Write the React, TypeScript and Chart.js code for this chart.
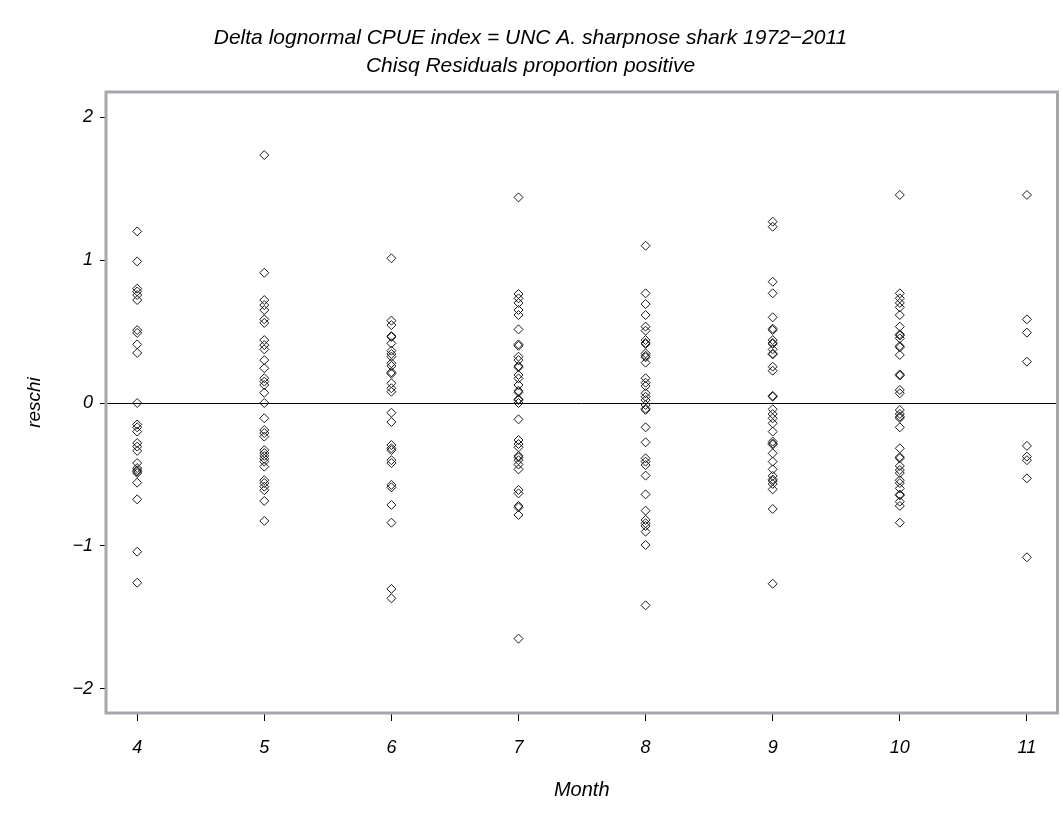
import { useEffect, useRef } from "react";
import { Chart, registerables } from "chart.js";

Chart.register(...registerables);

const titleLines = [
  "Delta lognormal CPUE index = UNC A. sharpnose shark 1972\u22122011",
  "Chisq Residuals proportion positive",
];
const xAxisTitle = "Month";
const yAxisTitle = "reschi";

const months = [4, 5, 6, 7, 8, 9, 10, 11];
const yTickValues = [-2, -1, 0, 1, 2];

const month4 = [1.2, 0.99, 0.8, 0.78, 0.755, 0.72, 0.51, 0.49, 0.41, 0.35, 0.0, -0.15, -0.17, -0.2, -0.28, -0.305, -0.335, -0.42, -0.455, -0.47, -0.48, -0.49, -0.557, -0.674, -1.04, -1.257];
const month5 = [1.734, 0.911, 0.72, 0.685, 0.65, 0.585, 0.56, 0.44, 0.405, 0.375, 0.3, 0.243, 0.173, 0.15, 0.126, 0.072, 0.0, -0.107, -0.189, -0.21, -0.235, -0.33, -0.35, -0.37, -0.39, -0.41, -0.445, -0.54, -0.56, -0.585, -0.61, -0.685, -0.825];
const month6 = [1.012, 0.576, 0.545, 0.468, 0.462, 0.417, 0.366, 0.343, 0.324, 0.278, 0.259, 0.215, 0.205, 0.138, 0.103, 0.079, -0.068, -0.133, -0.294, -0.317, -0.33, -0.4, -0.42, -0.573, -0.59, -0.713, -0.837, -1.3, -1.366];
const month7 = [1.438, 0.762, 0.732, 0.7, 0.65, 0.615, 0.515, 0.41, 0.4, 0.324, 0.3, 0.258, 0.25, 0.196, 0.172, 0.126, 0.085, 0.075, 0.026, 0.02, 0.0, -0.114, -0.259, -0.287, -0.31, -0.37, -0.38, -0.4, -0.43, -0.464, -0.608, -0.632, -0.72, -0.73, -0.783, -1.648];
const month8 = [1.1, 0.767, 0.692, 0.615, 0.534, 0.506, 0.44, 0.42, 0.413, 0.347, 0.33, 0.32, 0.282, 0.173, 0.142, 0.119, 0.068, 0.044, 0.02, -0.014, -0.04, -0.048, -0.17, -0.275, -0.387, -0.41, -0.434, -0.508, -0.639, -0.753, -0.818, -0.841, -0.86, -0.9, -0.993, -1.415];
const month9 = [1.268, 1.233, 0.848, 0.767, 0.599, 0.52, 0.51, 0.44, 0.42, 0.413, 0.375, 0.345, 0.34, 0.254, 0.226, 0.05, 0.044, -0.044, -0.077, -0.107, -0.142, -0.2, -0.27, -0.283, -0.29, -0.352, -0.41, -0.464, -0.51, -0.535, -0.545, -0.566, -0.604, -0.741, -1.264];
const month10 = [1.455, 0.767, 0.732, 0.7, 0.669, 0.615, 0.534, 0.48, 0.472, 0.452, 0.398, 0.39, 0.336, 0.2, 0.192, 0.091, 0.068, -0.049, -0.077, -0.095, -0.105, -0.17, -0.317, -0.378, -0.386, -0.44, -0.469, -0.49, -0.54, -0.56, -0.597, -0.64, -0.646, -0.69, -0.72, -0.837];
const month11 = [1.455, 0.585, 0.492, 0.289, -0.3, -0.375, -0.4, -0.527, -1.079];

const residualsByMonth = [month4, month5, month6, month7, month8, month9, month10, month11];

const FONT = "'Liberation Sans', Arial, Helvetica, sans-serif";

const framePlugin = {
  id: "frameAndZero",
  beforeDatasetsDraw(chart: any) {
    const { ctx, chartArea, scales } = chart;
    const { left, top, right, bottom } = chartArea;
    ctx.save();
    const y0 = Math.round(scales.y.getPixelForValue(0)) + 0.5;
    ctx.strokeStyle = "#000";
    ctx.lineWidth = 1;
    ctx.beginPath();
    ctx.moveTo(left, y0);
    ctx.lineTo(right, y0);
    ctx.stroke();
    ctx.strokeStyle = "#a4a8ac";
    ctx.lineWidth = 3;
    ctx.strokeRect(left, top, right - left, bottom - top);
    ctx.restore();
  },
};

export default function App() {
  const canvasRef = useRef<HTMLCanvasElement | null>(null);

  useEffect(() => {
    if (!canvasRef.current) return;
    const points: { x: number; y: number }[] = [];
    months.forEach((m, i) => {
      residualsByMonth[i].forEach((v) => points.push({ x: m, y: v }));
    });

    const chart = new Chart(canvasRef.current, {
      type: "scatter",
      data: {
        datasets: [
          {
            label: "reschi",
            data: points,
            pointStyle: "rectRot",
            pointRadius: 4.5,
            pointBorderWidth: 1,
            pointBorderColor: "#1a1a1a",
            pointBackgroundColor: "rgba(0,0,0,0)",
            showLine: false,
          },
        ],
      },
      options: {
        animation: false,
        responsive: false,
        devicePixelRatio: 1,
        layout: { padding: { left: 0, right: 2, top: 0, bottom: 0 } },
        plugins: {
          legend: { display: false },
          tooltip: { enabled: false },
          title: {
            display: true,
            text: titleLines,
            color: "#000",
            font: { family: FONT, size: 21, style: "italic", weight: "normal", lineHeight: 28 / 21 },
            padding: { top: 24, bottom: 12 },
          },
        },
        scales: {
          x: {
            type: "linear",
            min: 3.7546,
            max: 11.2407,
            afterFit: (s: any) => {
              s.height = 102;
            },
            afterBuildTicks: (s: any) => {
              s.ticks = months.map((v) => ({ value: v }));
            },
            border: { display: false },
            grid: { display: true, drawOnChartArea: false, drawTicks: true, tickLength: 8, color: "#000", lineWidth: 1 },
            ticks: {
              color: "#000",
              padding: 16,
              maxRotation: 0,
              autoSkip: false,
              font: { family: FONT, size: 18, style: "italic" },
            },
            title: {
              display: true,
              text: xAxisTitle,
              color: "#000",
              font: { family: FONT, size: 20, style: "italic", lineHeight: 1.2 },
              padding: { top: 0, bottom: 13 },
            },
          },
          y: {
            type: "linear",
            min: -2.168,
            max: 2.175,
            afterFit: (s: any) => {
              s.width = 106;
            },
            afterBuildTicks: (s: any) => {
              s.ticks = yTickValues.map((v) => ({ value: v }));
            },
            border: { display: false },
            grid: { display: true, drawOnChartArea: false, drawTicks: true, tickLength: 6, color: "#000", lineWidth: 1 },
            ticks: {
              color: "#000",
              padding: 7,
              autoSkip: false,
              font: { family: FONT, size: 18, style: "italic" },
              callback: (v: any) => String(v).replace("-", "\u2212"),
            },
            title: {
              display: true,
              text: yAxisTitle,
              color: "#000",
              font: { family: FONT, size: 19, style: "italic", lineHeight: 1.2 },
              padding: { top: 23, bottom: 0 },
            },
          },
        },
      },
      plugins: [framePlugin],
    });

    return () => chart.destroy();
  }, []);

  return (
    <div style={{ position: "absolute", left: 0, top: 0, width: 1063, height: 815, background: "#fff" }}>
      <canvas ref={canvasRef} width={1063} height={815} style={{ display: "block", width: 1063, height: 815 }} />
    </div>
  );
}
